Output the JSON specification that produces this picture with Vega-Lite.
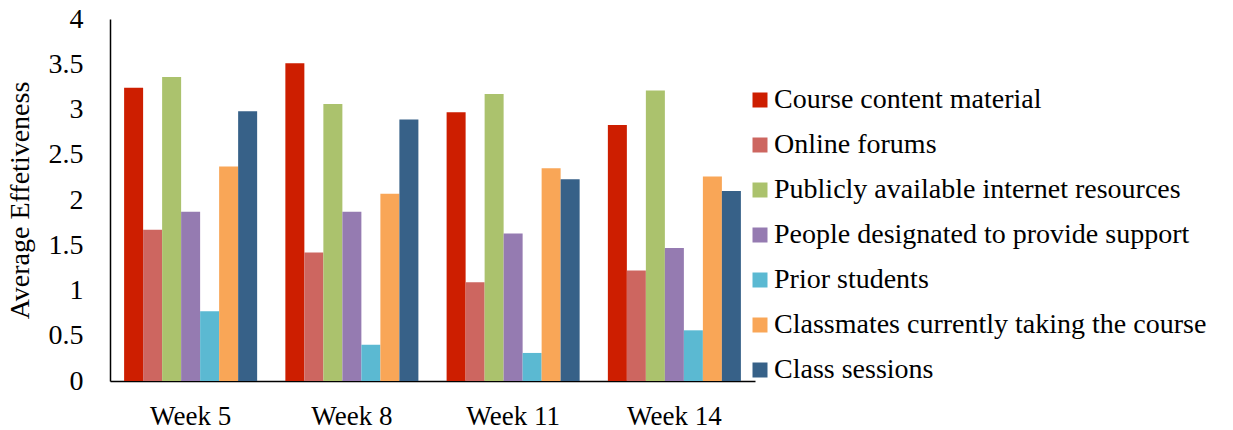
{
  "$schema": "https://vega.github.io/schema/vega-lite/v6.json",
  "width": 645,
  "height": 362,
  "autosize": {"type": "none"},
  "padding": {"left": 110, "top": 19, "right": 478, "bottom": 49},
  "background": "white",
  "config": {
    "font": "Liberation Serif, Times New Roman, serif",
    "view": {"stroke": null},
    "axis": {"labelFont": "Liberation Serif, Times New Roman, serif", "titleFont": "Liberation Serif, Times New Roman, serif", "labelColor": "black", "titleColor": "black"},
    "legend": {"labelFont": "Liberation Serif, Times New Roman, serif"}
  },
  "data": {
    "values": [
      {"week": "Week 5", "source": "Course content material", "value": 3.24},
      {"week": "Week 5", "source": "Online forums", "value": 1.67},
      {"week": "Week 5", "source": "Publicly available internet resources", "value": 3.36},
      {"week": "Week 5", "source": "People designated to provide support", "value": 1.87},
      {"week": "Week 5", "source": "Prior students", "value": 0.77},
      {"week": "Week 5", "source": "Classmates currently taking the course", "value": 2.37},
      {"week": "Week 5", "source": "Class sessions", "value": 2.98},
      {"week": "Week 8", "source": "Course content material", "value": 3.51},
      {"week": "Week 8", "source": "Online forums", "value": 1.42},
      {"week": "Week 8", "source": "Publicly available internet resources", "value": 3.06},
      {"week": "Week 8", "source": "People designated to provide support", "value": 1.87},
      {"week": "Week 8", "source": "Prior students", "value": 0.40},
      {"week": "Week 8", "source": "Classmates currently taking the course", "value": 2.07},
      {"week": "Week 8", "source": "Class sessions", "value": 2.89},
      {"week": "Week 11", "source": "Course content material", "value": 2.97},
      {"week": "Week 11", "source": "Online forums", "value": 1.09},
      {"week": "Week 11", "source": "Publicly available internet resources", "value": 3.17},
      {"week": "Week 11", "source": "People designated to provide support", "value": 1.63},
      {"week": "Week 11", "source": "Prior students", "value": 0.31},
      {"week": "Week 11", "source": "Classmates currently taking the course", "value": 2.35},
      {"week": "Week 11", "source": "Class sessions", "value": 2.23},
      {"week": "Week 14", "source": "Course content material", "value": 2.83},
      {"week": "Week 14", "source": "Online forums", "value": 1.22},
      {"week": "Week 14", "source": "Publicly available internet resources", "value": 3.21},
      {"week": "Week 14", "source": "People designated to provide support", "value": 1.47},
      {"week": "Week 14", "source": "Prior students", "value": 0.56},
      {"week": "Week 14", "source": "Classmates currently taking the course", "value": 2.26},
      {"week": "Week 14", "source": "Class sessions", "value": 2.10}
    ]
  },
  "mark": {"type": "bar"},
  "encoding": {
    "x": {
      "field": "week",
      "type": "nominal",
      "sort": ["Week 5", "Week 8", "Week 11", "Week 14"],
      "scale": {"paddingInner": 0.175, "paddingOuter": 0.0875},
      "axis": {
        "title": null,
        "labelAngle": 0,
        "labelFont": "Liberation Serif, Times New Roman, serif",
        "labelFontSize": 27,
        "labelPadding": 22,
        "ticks": false,
        "tickSize": 0,
        "domainColor": "black",
        "domainWidth": 1.5
      }
    },
    "xOffset": {
      "field": "source",
      "type": "nominal",
      "sort": ["Course content material", "Online forums", "Publicly available internet resources", "People designated to provide support", "Prior students", "Classmates currently taking the course", "Class sessions"],
      "scale": {"paddingInner": 0, "paddingOuter": 0}
    },
    "y": {
      "field": "value",
      "type": "quantitative",
      "scale": {"domain": [0, 4], "nice": false},
      "axis": {
        "title": "Average Effetiveness",
        "titleFont": "Liberation Serif, Times New Roman, serif",
        "titleFontSize": 28,
        "titleFontWeight": "normal",
        "titlePadding": 14,
        "values": [0, 0.5, 1, 1.5, 2, 2.5, 3, 3.5, 4],
        "format": "~g",
        "labelFont": "Liberation Serif, Times New Roman, serif",
        "labelFontSize": 28,
        "labelPadding": 27,
        "ticks": false,
        "tickSize": 0,
        "grid": false,
        "domainColor": "black",
        "domainWidth": 1.5
      }
    },
    "color": {
      "field": "source",
      "type": "nominal",
      "sort": ["Course content material", "Online forums", "Publicly available internet resources", "People designated to provide support", "Prior students", "Classmates currently taking the course", "Class sessions"],
      "scale": {
        "domain": ["Course content material", "Online forums", "Publicly available internet resources", "People designated to provide support", "Prior students", "Classmates currently taking the course", "Class sessions"],
        "range": ["#CD1E00", "#CD6660", "#ABC26D", "#957BB1", "#5BB9D2", "#F9A657", "#376188"]
      },
      "legend": {
        "title": null,
        "orient": "none",
        "legendX": 636,
        "legendY": 67,
        "symbolType": "square",
        "symbolSize": 225,
        "symbolStrokeWidth": 0,
        "labelFont": "Liberation Serif, Times New Roman, serif",
        "labelFontSize": 28,
        "labelLimit": 600,
        "labelOffset": 0,
        "labelColor": "black",
        "rowPadding": 17
      }
    }
  }
}
